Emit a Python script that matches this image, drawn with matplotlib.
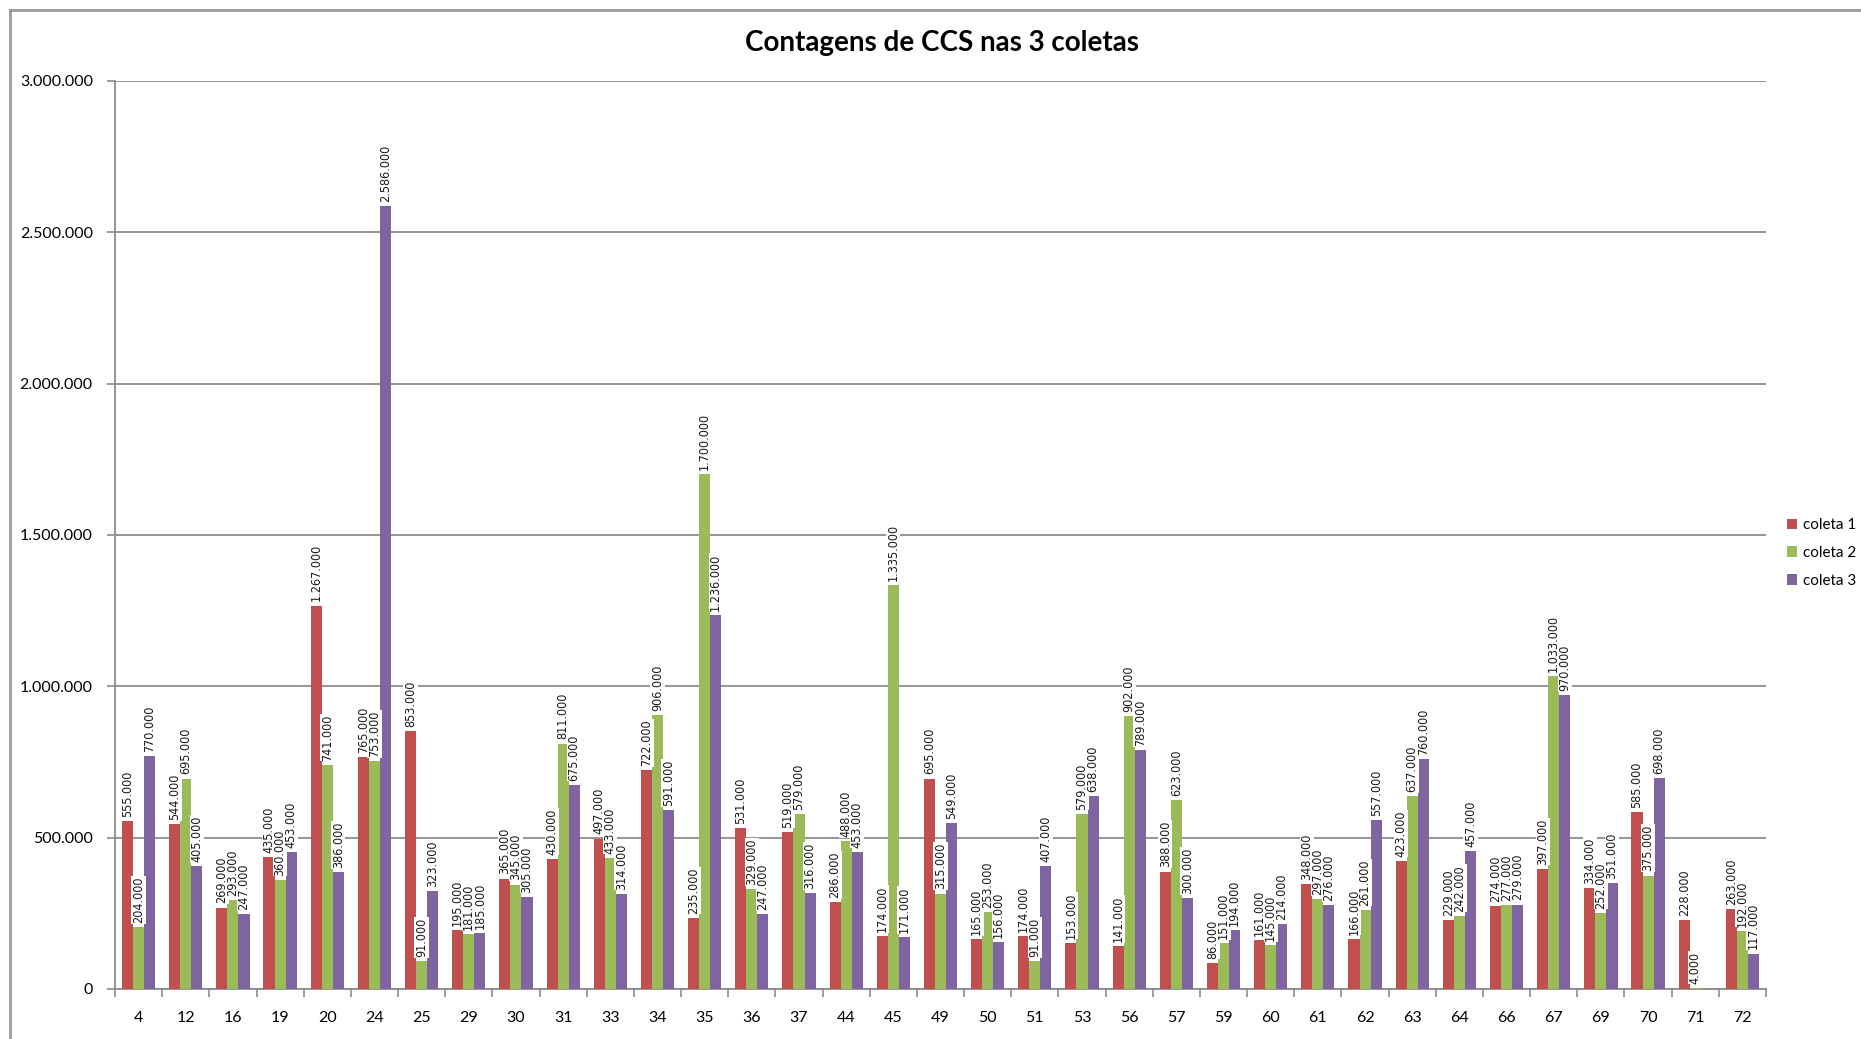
import numpy as np
import matplotlib
matplotlib.use("Agg")
import matplotlib.pyplot as plt
from matplotlib.ticker import FuncFormatter, FixedLocator
from matplotlib.lines import Line2D

# Sample identifiers (x categories)
categories = ["4", "12", "16", "19", "20", "24", "25", "29", "30", "31", "33", "34",
              "35", "36", "37", "44", "45", "49", "50", "51", "53", "56", "57", "59",
              "60", "61", "62", "63", "64", "66", "67", "69", "70", "71", "72"]

# Somatic cell counts for each collection
coleta_1 = [555000, 544000, 269000, 435000, 1267000, 765000, 853000, 195000, 365000,
            430000, 497000, 722000, 235000, 531000, 519000, 286000, 174000, 695000,
            165000, 174000, 153000, 141000, 388000, 86000, 161000, 348000, 166000,
            423000, 229000, 274000, 397000, 334000, 585000, 228000, 263000]
coleta_2 = [204000, 695000, 293000, 360000, 741000, 753000, 91000, 181000, 345000,
            811000, 433000, 906000, 1700000, 329000, 579000, 488000, 1335000, 315000,
            253000, 91000, 579000, 902000, 623000, 151000, 145000, 297000, 261000,
            637000, 242000, 277000, 1033000, 252000, 375000, 4000, 192000]
coleta_3 = [770000, 405000, 247000, 453000, 386000, 2586000, 323000, 185000, 305000,
            675000, 314000, 591000, 1236000, 247000, 316000, 453000, 171000, 549000,
            156000, 407000, 638000, 789000, 300000, 194000, 214000, 276000, 557000,
            760000, 457000, 279000, 970000, 351000, 698000, None, 117000]

series_names = ["coleta 1", "coleta 2", "coleta 3"]
y_ticks = [0, 500000, 1000000, 1500000, 2000000, 2500000, 3000000]

colors = ["#C0504D", "#9BBB59", "#8064A2"]
grid_color = "#8C8C8C"
tick_font = ["Lato", "DejaVu Sans"]


def dotted(v):
    return f"{int(round(v)):,}".replace(",", ".")


W, H = 1861, 1039
fig = plt.figure(figsize=(W / 100, H / 100), dpi=100)
fig.patch.set_facecolor("white")

left, right, top, bottom = 115, 1766, 81, 989
ax = fig.add_axes([left / W, 1 - bottom / H, (right - left) / W, (bottom - top) / H])

x = np.arange(len(categories))
bw = 0.235
all_series = [coleta_1, coleta_2, coleta_3]

for k, (vals, name, col) in enumerate(zip(all_series, series_names, colors)):
    xs = x + (k - 1) * bw
    heights = np.array([np.nan if v is None else v for v in vals], dtype=float)
    ax.bar(xs, heights, width=bw, color=col, label=name, zorder=3, linewidth=0)
    for xi, v in zip(xs, vals):
        if v is None:
            continue
        ax.annotate(dotted(v), xy=(xi, v), xytext=(0, 3), textcoords="offset points",
                    rotation=90, ha="center", va="bottom", fontsize=9,
                    family="DejaVu Sans", fontstretch="condensed", color="#1a1a1a",
                    zorder=4,
                    bbox=dict(boxstyle="square,pad=0.05", fc="white", ec="none"))

ax.set_xlim(-0.5, len(categories) - 0.5)
ax.set_ylim(0, 3000000)

ax.yaxis.set_major_locator(FixedLocator(y_ticks))
ax.yaxis.set_major_formatter(FuncFormatter(lambda v, p: dotted(v)))
ax.grid(axis="y", color=grid_color, linewidth=1.3, zorder=0)
ax.set_axisbelow(True)

# category labels centred, tick marks between the groups
ax.set_xticks(x)
ax.set_xticklabels(categories, family=tick_font, fontsize=11.5)
ax.set_xticks(np.arange(len(categories) + 1) - 0.5, minor=True)
ax.tick_params(axis="x", which="major", length=0, pad=16)
ax.tick_params(axis="x", which="minor", length=6, width=1.2, color=grid_color, direction="out")
ax.tick_params(axis="y", which="major", length=6, width=1.2, color=grid_color,
               labelsize=11.5, pad=10)
for lab in ax.get_yticklabels():
    lab.set_family(tick_font)

for s in ["top", "right"]:
    ax.spines[s].set_visible(False)
for s in ["left", "bottom"]:
    ax.spines[s].set_color(grid_color)
    ax.spines[s].set_linewidth(1.3)

fig.text(942 / W, 1 - 43 / H, "Contagens de CCS nas 3 coletas", ha="center", va="center",
         fontsize=20, fontweight="bold", family=tick_font)

leg = fig.legend(loc="center left", bbox_to_anchor=(1779 / W, 1 - 553 / H),
                 frameon=False, prop={"family": tick_font, "size": 11},
                 handlelength=0.7, handleheight=0.7, handletextpad=0.4,
                 labelspacing=0.9, borderpad=0)

# chart frame
fig.add_artist(Line2D([10 / W, 1.0], [1 - 10 / H, 1 - 10 / H], transform=fig.transFigure,
                      color="#9A9A9A", linewidth=2))
fig.add_artist(Line2D([10 / W, 10 / W], [0.0, 1 - 10 / H], transform=fig.transFigure,
                      color="#9A9A9A", linewidth=2))

fig.savefig("out.png", dpi=100, facecolor="white")
